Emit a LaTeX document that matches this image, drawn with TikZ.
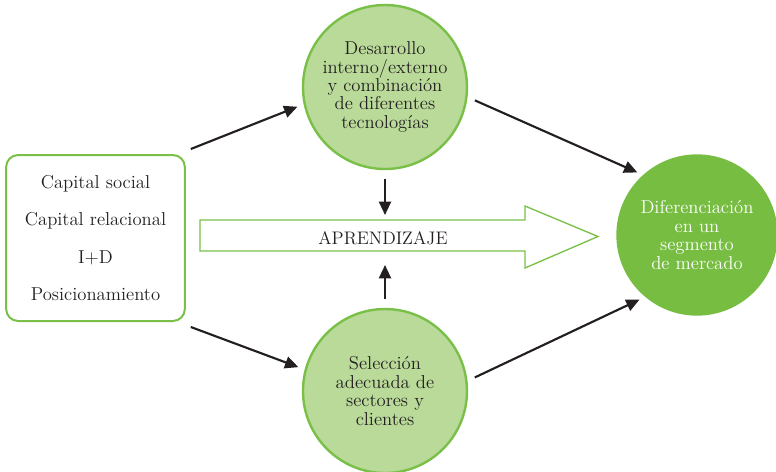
\documentclass[tikz,border=0pt]{standalone}
\usepackage{tikz}
\usetikzlibrary{arrows.meta, calc}
\definecolor{tinta}{RGB}{35,31,32}
\definecolor{verdeclaro}{RGB}{186,218,154}
\definecolor{verdeborde}{RGB}{122,192,72}
\definecolor{verdeoscuro}{RGB}{118,189,66}

\begin{document}
\begin{tikzpicture}[x=0.75pt, y=-0.75pt,
  texto/.style={text=tinta, font=\fontsize{14}{13.8}\selectfont, align=center},
  caja/.style={texto, draw=verdeborde, line width=1.5pt, rounded corners=9pt,
    minimum width=134pt, minimum height=124.5pt},
  circulo/.style={texto, circle, draw=verdeborde, fill=verdeclaro, line width=1.8pt,
    minimum size=123pt, inner sep=0pt},
  meta/.style={texto, circle, fill=verdeoscuro, text=white, minimum size=121pt, inner sep=0pt},
  flecha/.style={-{Triangle[length=10pt,width=9pt]}, line width=1.6pt, draw=tinta},
  banda/.style={draw=verdeborde, line width=1pt, fill=white}]
\useasboundingbox (0,0) rectangle (776,472);
% learning band
\draw[banda] (200,220)--(525,220)--(525,206)--(598,236.5)--(525,268)--(525,251)--(200,251)--cycle;
\path
(383,238) node[texto, font=\fontsize{13.6}{14}\selectfont] (aprendizaje) {APRENDIZAJE};
\coordinate (aprTop) at (385,215);
\coordinate (aprBot) at (385,265);
% nodes
\path
(95.5,238) node[caja] (factores) {Capital social\\[14pt] Capital relacional\\[14pt] I+D\\[14pt] Posicionamiento};
\path
(385,87) node[circulo] (dev) {Desarrollo\\ interno/externo\\ y combinaci\'on\\ de diferentes\\ tecnolog\'ias};
\path
(385,391) node[circulo] (sel) {Selecci\'on\\ adecuada de\\ sectores y\\ clientes};
\path
(697,235) node[meta] (dif) {Diferenciaci\'on\\ en un\\ segmento\\ de mercado};
% arrows
\draw[flecha, shorten >=5pt] ([shift={(5,-5)}]factores.north east) -- (dev.192);
\draw[flecha, shorten >=5pt] ([shift={(5,5)}]factores.south east) -- (sel.165);
\draw[flecha, shorten <=6pt, shorten >=4.5pt] (dev.353) -- (dif.132);
\draw[flecha, shorten <=6pt, shorten >=4.5pt] (sel.7) -- (dif.230);
\draw[flecha, shorten <=6.5pt] (dev) -- (aprTop);
\draw[flecha, shorten <=6.5pt] (sel) -- (aprBot);
\end{tikzpicture}
\end{document}
